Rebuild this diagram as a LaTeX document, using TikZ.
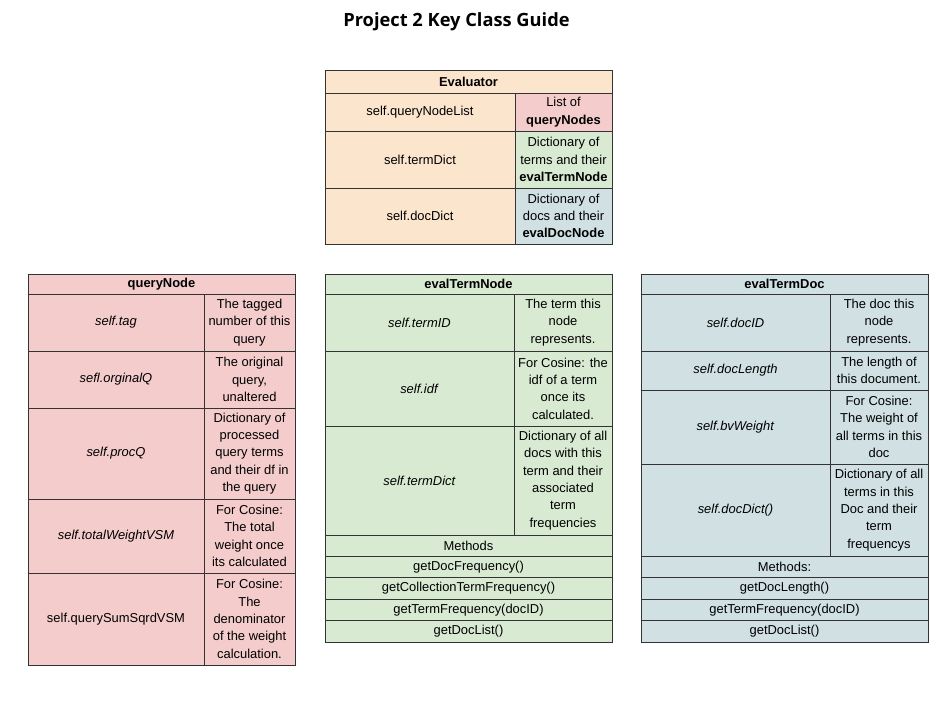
\documentclass[tikz,border=0pt]{standalone}
\usepackage{fontspec}
\setmainfont{Liberation Sans}
\newfontfamily\titlefont{Open Sans}
\usetikzlibrary{positioning}
\definecolor{evOr}{HTML}{FCE5CD}
\definecolor{qnRed}{HTML}{F4CCCC}
\definecolor{tnGrn}{HTML}{D9EAD3}
\definecolor{dcBlu}{HTML}{D0E0E3}
\begin{document}
\begin{tikzpicture}[x=0.75pt,y=-0.75pt,font=\fontsize{9.7}{13}\selectfont,
  c/.style={draw=black!80,line width=0.7pt,align=center,inner sep=1pt,outer sep=0pt,anchor=north west},
  sz/.style 2 args={minimum width=#1*0.75pt,minimum height=#2*0.75pt},
  ev/.style={c,fill=evOr},qn/.style={c,fill=qnRed},tn/.style={c,fill=tnGrn},dc/.style={c,fill=dcBlu},
  under/.style={below=0pt of #1.south west,anchor=north west},
  beside/.style={right=0pt of #1.north east,anchor=north west}]
\useasboundingbox[fill=white](0,0) rectangle (936,702);
\node[font=\titlefont\bfseries\fontsize{13.7}{16}\selectfont,anchor=base](title) at (456.5,27){Project 2 Key Class Guide};
% Evaluator
\node[ev,sz={287}{23}](eh) at (325,70){\textbf{Evaluator}};
\node[ev,sz={190}{38},under=eh](e1){self.queryNodeList};
\node[qn,sz={97}{38},beside=e1](e1v){List of\\\textbf{queryNodes}};
\node[ev,sz={190}{57},under=e1](e2){self.termDict};
\node[tn,sz={97}{57},beside=e2](e2v){Dictionary of\\terms and their\\\textbf{evalTermNode}};
\node[ev,sz={190}{56},under=e2](e3){self.docDict};
\node[dc,sz={97}{56},beside=e3](e3v){Dictionary of\\docs and their\\\textbf{evalDocNode}};
% queryNode
\node[qn,sz={267}{20}](qh) at (28,274){\textbf{queryNode}};
\node[qn,sz={176}{57},under=qh](q1){\textit{self.tag}};
\node[qn,sz={91}{57},beside=q1](q1v){The tagged\\number of this\\query};
\node[qn,sz={176}{57},under=q1](q2){\textit{sefl.orginalQ}};
\node[qn,sz={91}{57},beside=q2](q2v){The original\\query,\\unaltered};
\node[qn,sz={176}{91},under=q2](q3){\textit{self.procQ}};
\node[qn,sz={91}{91},beside=q3](q3v){Dictionary of\\processed\\query terms\\and their df in\\the query};
\node[qn,sz={176}{74},under=q3](q4){\textit{self.totalWeightVSM}};
\node[qn,sz={91}{74},beside=q4](q4v){For Cosine:\\The total\\weight once\\its calculated};
\node[qn,sz={176}{92},under=q4](q5){self.querySumSqrdVSM};
\node[qn,sz={91}{92},beside=q5](q5v){For Cosine:\\The\\denominator\\of the weight\\calculation.};
% evalTermNode
\node[tn,sz={287}{20}](th) at (325,274){\textbf{evalTermNode}};
\node[tn,sz={189}{57},under=th](t1){\textit{self.termID}};
\node[tn,sz={98}{57},beside=t1](t1v){The term this\\node\\represents.};
\node[tn,sz={189}{75},under=t1](t2){\textit{self.idf}};
\node[tn,sz={98}{75},beside=t2](t2v){For Cosine: the\\idf of a term\\once its\\calculated.};
\node[tn,sz={189}{109},under=t2](t3){\textit{self.termDict}};
\node[tn,sz={98}{109},beside=t3](t3v){Dictionary of all\\docs with this\\term and their\\associated\\term\\frequencies};
\foreach \m [count=\i] in {Methods,getDocFrequency(),getCollectionTermFrequency(),getTermFrequency(docID),getDocList()}
  \node[tn,sz={287}{21.4}](tm\i) at (325,{535+21.4*(\i-1)}){\m};
% evalTermDoc
\node[dc,sz={287}{20}](dh) at (641,274){\textbf{evalTermDoc}};
\node[dc,sz={189}{57},under=dh](d1){\textit{self.docID}};
\node[dc,sz={98}{57},beside=d1](d1v){The doc this\\node\\represents.};
\node[dc,sz={189}{39},under=d1](d2){\textit{self.docLength}};
\node[dc,sz={98}{39},beside=d2](d2v){The length of\\this document.};
\node[dc,sz={189}{74},under=d2](d3){\textit{self.bvWeight}};
\node[dc,sz={98}{74},beside=d3](d3v){For Cosine:\\The weight of\\all terms in this\\doc};
\node[dc,sz={189}{92},under=d3](d4){\textit{self.docDict()}};
\node[dc,sz={98}{92},beside=d4](d4v){Dictionary of all\\terms in this\\Doc and their\\term\\frequencys};
\foreach \m [count=\i] in {Methods:,getDocLength(),getTermFrequency(docID),getDocList()}
  \node[dc,sz={287}{21.5}](dm\i) at (641,{556+21.5*(\i-1)}){\m};
\end{tikzpicture}
\end{document}
